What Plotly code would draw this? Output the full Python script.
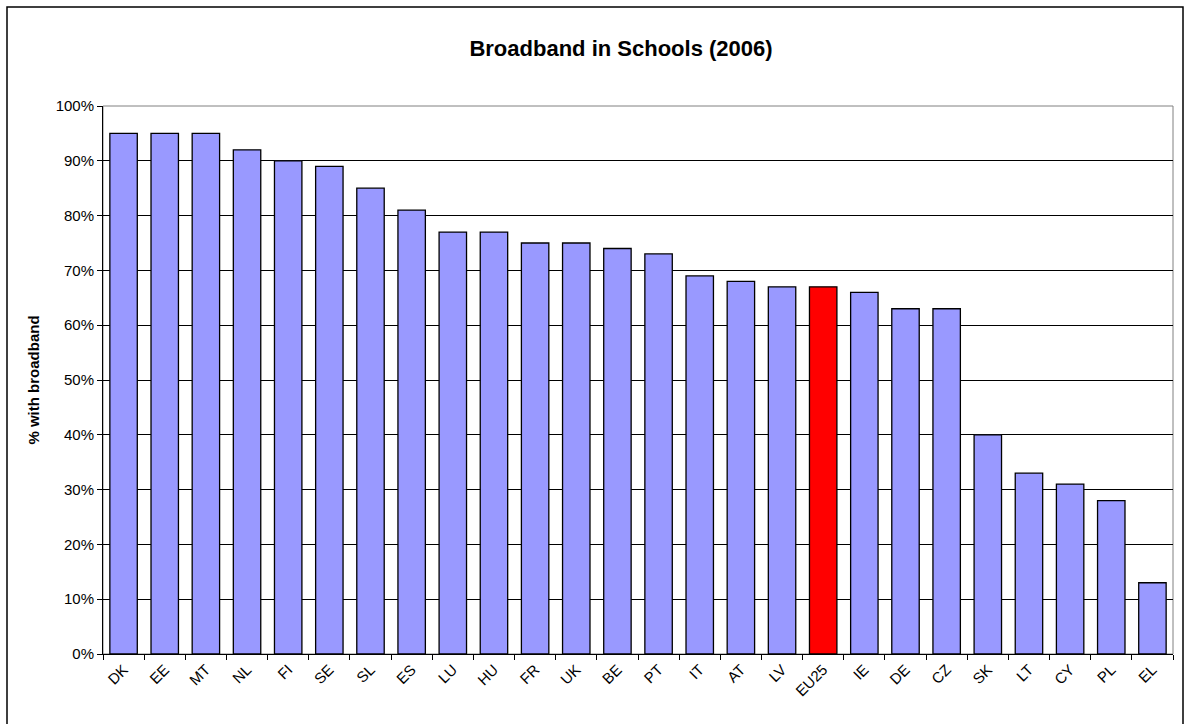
import plotly.graph_objects as go

FONT = "Liberation Sans, Arial, sans-serif"
BAR = "#9999FF"
HIGHLIGHT = "#FF0000"

countries = ["DK", "EE", "MT", "NL", "FI", "SE", "SL", "ES", "LU", "HU", "FR", "UK", "BE",
             "PT", "IT", "AT", "LV", "EU25", "IE", "DE", "CZ", "SK", "LT", "CY", "PL", "EL"]
broadband = [0.95, 0.95, 0.95, 0.92, 0.90, 0.89, 0.85, 0.81, 0.77, 0.77, 0.75, 0.75, 0.74,
             0.73, 0.69, 0.68, 0.67, 0.67, 0.66, 0.63, 0.63, 0.40, 0.33, 0.31, 0.28, 0.13]
highlight = "EU25"

colors = [HIGHLIGHT if c == highlight else BAR for c in countries]

fig = go.Figure(go.Bar(
    x=countries, y=broadband,
    marker=dict(color=colors, line=dict(color="#000000", width=1.3)),
    hovertemplate="%{x}: %{y:.0%}<extra></extra>",
))

fig.update_layout(
    width=1186, height=724,
    paper_bgcolor="white", plot_bgcolor="white",
    font=dict(family=FONT, color="black", size=15),
    margin=dict(l=103, r=13, t=106, b=70),
    bargap=1 / 3,
    showlegend=False,
    title=dict(text="<b>Broadband in Schools (2006)</b>", font=dict(size=22, family=FONT),
               x=621 / 1186, xanchor="center", y=1 - 48 / 724, yanchor="middle"),
    xaxis=dict(tickangle=-45, tickson="boundaries", ticks="outside", ticklen=5,
               tickcolor="#000", showline=True, linecolor="#000", linewidth=1,
               tickfont=dict(size=15, family=FONT)),
    yaxis=dict(range=[0, 1], dtick=0.1, tickformat=".0%", ticks="outside", ticklen=5,
               tickcolor="#000", showline=True, linecolor="#000", linewidth=1,
               showgrid=True, gridcolor="#000", gridwidth=1, zeroline=False,
               tickfont=dict(size=15, family=FONT),
               title=dict(text="<b>% with broadband</b>", font=dict(size=15, family=FONT),
                          standoff=12)),
)

# gray plot-area frame on top and right
fig.add_shape(type="rect", xref="paper", yref="paper", x0=0, x1=1, y0=0, y1=1,
              line=dict(color="#808080", width=1), layer="below")
# outer chart border (bottom edge runs off the page, as in the original)
fig.add_shape(type="rect", xref="paper", yref="paper",
              x0=-96 / 1070, x1=1 + 10 / 1070, y0=-80 / 548, y1=1 + 99 / 548,
              line=dict(color="#000000", width=1.5))

fig.write_html("out.html", config={"displayModeBar": False},
               post_script="document.body.style.margin = '0';")
